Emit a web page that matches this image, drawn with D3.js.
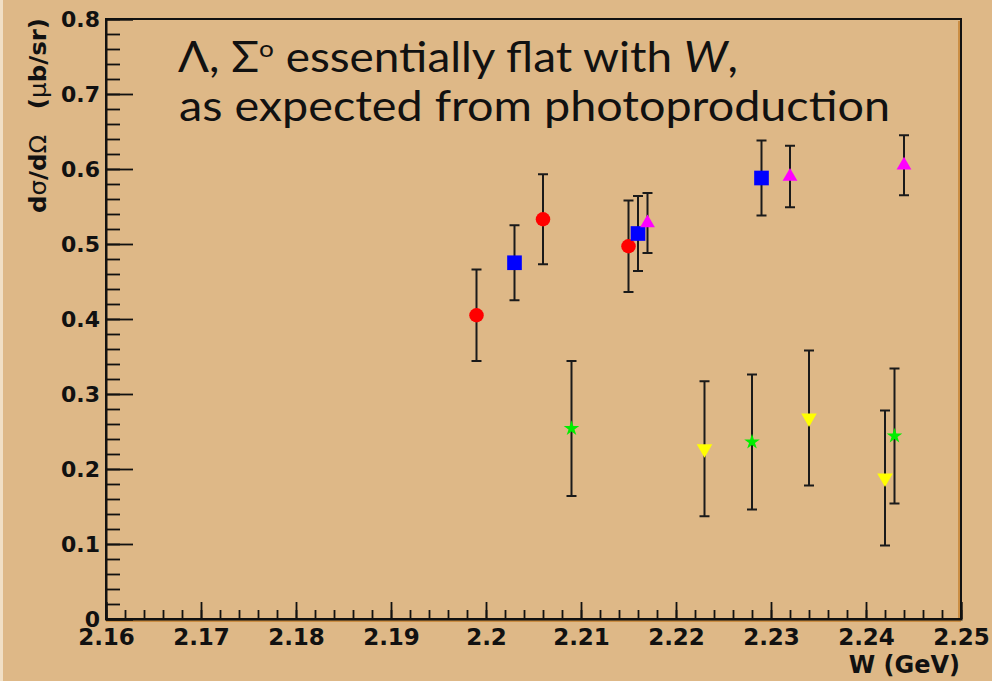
<!DOCTYPE html>
<html>
<head>
<meta charset="utf-8">
<script src="https://cdn.jsdelivr.net/npm/d3@7"></script>
<style>
  html, body { margin: 0; padding: 0; background: #deb887; }
  svg { display: block; }
</style>
</head>
<body>
<svg id="chart" width="992" height="681"></svg>
<script>
// Axis ticks and labels
const xTickValues = [2.16, 2.17, 2.18, 2.19, 2.20, 2.21, 2.22, 2.23, 2.24, 2.25];
const xTickLabels = ["2.16", "2.17", "2.18", "2.19", "2.2", "2.21", "2.22", "2.23", "2.24", "2.25"];
const yTickValues = [0, 0.1, 0.2, 0.3, 0.4, 0.5, 0.6, 0.7, 0.8];
const yTickLabels = ["0", "0.1", "0.2", "0.3", "0.4", "0.5", "0.6", "0.7", "0.8"];

// Red circles
const redW   = [2.199, 2.206, 2.215];
const redV   = [0.405, 0.533, 0.497];
const redErr = [0.061, 0.060, 0.061];

// Blue squares
const blueW   = [2.203, 2.216, 2.229];
const blueV   = [0.475, 0.514, 0.588];
const blueErr = [0.050, 0.050, 0.050];

// Magenta upward triangles
const magentaW   = [2.217, 2.232, 2.244];
const magentaV   = [0.528, 0.590, 0.605];
const magentaErr = [0.040, 0.041, 0.040];

// Green stars
const greenW   = [2.209, 2.228, 2.243];
const greenV   = [0.254, 0.236, 0.244];
const greenErr = [0.090, 0.090, 0.090];

// Yellow downward triangles
const yellowW   = [2.223, 2.234, 2.242];
const yellowV   = [0.227, 0.268, 0.188];
const yellowErr = [0.090, 0.090, 0.090];

const svg = d3.select("#chart");
const W = 992, H = 681;
const frame = { left: 106, right: 961, top: 19, bottom: 619 };

const x = d3.scaleLinear().domain([2.16, 2.25]).range([frame.left, frame.right]);
const y = d3.scaleLinear().domain([0, 0.8]).range([frame.bottom, frame.top]);

// background
svg.append("rect").attr("width", W).attr("height", H).attr("fill", "#deb887");
svg.append("rect").attr("x", 0).attr("y", 0).attr("width", 3).attr("height", H).attr("fill", "#f1dfc5");

// frame shading on right and bottom edges
svg.append("line").attr("x1", frame.right - 2).attr("x2", frame.right - 2)
  .attr("y1", frame.top + 2).attr("y2", frame.bottom)
  .attr("stroke", "#c4812e").attr("stroke-width", 1.5);
svg.append("line").attr("x1", frame.left).attr("x2", frame.right)
  .attr("y1", frame.bottom + 2).attr("y2", frame.bottom + 2)
  .attr("stroke", "#c4812e").attr("stroke-width", 1.5);

// frame
svg.append("rect")
  .attr("x", frame.left).attr("y", frame.top)
  .attr("width", frame.right - frame.left).attr("height", frame.bottom - frame.top)
  .attr("fill", "none").attr("stroke", "#111").attr("stroke-width", 2);

const labelFont = "'DejaVu Sans', sans-serif";

// x axis: minor ticks, then major ticks with labels
const xMinor = d3.range(2.16, 2.2501, 0.002);
svg.append("g").attr("transform", `translate(0,${frame.bottom})`)
  .call(d3.axisBottom(x).tickValues(xMinor).tickSize(-9).tickFormat(""))
  .call(g => g.select(".domain").remove())
  .call(g => g.selectAll("line").attr("stroke", "#111").attr("stroke-width", 1.8));

const xAxis = svg.append("g").attr("transform", `translate(0,${frame.bottom})`)
  .call(d3.axisBottom(x).tickValues(xTickValues).tickSize(-17).tickPadding(10)
    .tickFormat((d, i) => xTickLabels[i]));
xAxis.select(".domain").attr("stroke", "#111").attr("stroke-width", 2);
xAxis.selectAll("line").attr("stroke", "#111").attr("stroke-width", 1.8);
xAxis.selectAll("text")
  .attr("font-family", labelFont).attr("font-weight", "bold")
  .attr("font-size", 23).attr("fill", "#111");

// y axis
const yMinor = d3.range(0, 0.8001, 0.02);
svg.append("g").attr("transform", `translate(${frame.left},0)`)
  .call(d3.axisLeft(y).tickValues(yMinor).tickSize(-14).tickFormat(""))
  .call(g => g.select(".domain").remove())
  .call(g => g.selectAll("line").attr("stroke", "#111").attr("stroke-width", 1.8));

const yAxis = svg.append("g").attr("transform", `translate(${frame.left},0)`)
  .call(d3.axisLeft(y).tickValues(yTickValues).tickSize(-27).tickPadding(6)
    .tickFormat((d, i) => yTickLabels[i]));
yAxis.select(".domain").attr("stroke", "#111").attr("stroke-width", 2);
yAxis.selectAll("line").attr("stroke", "#111").attr("stroke-width", 1.8);
yAxis.selectAll("text")
  .attr("font-family", labelFont).attr("font-weight", "bold")
  .attr("font-size", 22).attr("fill", "#111");

// axis titles
svg.append("text")
  .attr("x", 960).attr("y", 673)
  .attr("text-anchor", "end")
  .attr("font-family", labelFont).attr("font-weight", "bold")
  .attr("font-size", 24).attr("fill", "#111")
  .text("W (GeV)");

const yTitle = svg.append("text")
  .attr("transform", "translate(46,18) rotate(-90)")
  .attr("text-anchor", "end")
  .attr("font-family", labelFont).attr("font-weight", "bold")
  .attr("font-size", 23).attr("fill", "#111")
  .attr("textLength", 195).attr("lengthAdjust", "spacingAndGlyphs");
yTitle.append("tspan").text("d");
yTitle.append("tspan").attr("font-weight", "normal").text("σ");
yTitle.append("tspan").text("/d");
yTitle.append("tspan").attr("font-weight", "normal").text("Ω");
yTitle.append("tspan").text("\u00a0\u00a0\u00a0(");
yTitle.append("tspan").attr("font-weight", "normal").text("μ");
yTitle.append("tspan").text("b/sr)");

// data series
const series = [
  { w: redW, v: redV, e: redErr, color: "#ff0000", symbol: d3.symbolCircle, size: 165, rotate: 0 },
  { w: blueW, v: blueV, e: blueErr, color: "#0000ff", symbol: d3.symbolSquare, size: 215, rotate: 0 },
  { w: magentaW, v: magentaV, e: magentaErr, color: "#ff00ff", symbol: d3.symbolTriangle, size: 95, rotate: 0 },
  { w: greenW, v: greenV, e: greenErr, color: "#00ee00", symbol: d3.symbolStar, size: 75, rotate: 0 },
  { w: yellowW, v: yellowV, e: yellowErr, color: "#ffff00", symbol: d3.symbolTriangle, size: 105, rotate: 180 }
];

const capHalf = 5;
series.forEach(s => {
  const pts = s.w.map((w, i) => ({ w, v: s.v[i], e: s.e[i] }));
  const g = svg.append("g");
  const bars = g.selectAll("g.err").data(pts).join("g").attr("class", "err")
    .attr("stroke", "#1a1a1a").attr("stroke-width", 2);
  bars.append("line")
    .attr("x1", d => x(d.w)).attr("x2", d => x(d.w))
    .attr("y1", d => y(d.v + d.e)).attr("y2", d => y(d.v - d.e));
  bars.append("line")
    .attr("x1", d => x(d.w) - capHalf).attr("x2", d => x(d.w) + capHalf)
    .attr("y1", d => y(d.v + d.e)).attr("y2", d => y(d.v + d.e));
  bars.append("line")
    .attr("x1", d => x(d.w) - capHalf).attr("x2", d => x(d.w) + capHalf)
    .attr("y1", d => y(d.v - d.e)).attr("y2", d => y(d.v - d.e));
  g.selectAll("path.mk").data(pts).join("path").attr("class", "mk")
    .attr("d", d3.symbol().type(s.symbol).size(s.size))
    .attr("transform", d => `translate(${x(d.w)},${y(d.v)}) rotate(${s.rotate})`)
    .attr("fill", s.color);
});

// annotation
const noteFont = "Lato, 'Open Sans', sans-serif";
const line1 = svg.append("text")
  .attr("x", 178).attr("y", 72)
  .attr("font-family", noteFont).attr("font-size", 42).attr("fill", "#111")
  .attr("textLength", 560).attr("lengthAdjust", "spacingAndGlyphs");
line1.append("tspan").text("Λ, Σ");
line1.append("tspan").attr("font-size", 24).attr("dy", -15).text("o");
line1.append("tspan").attr("dy", 15).text(" essentially flat with ");
line1.append("tspan").attr("font-style", "italic").text("W");
line1.append("tspan").text(",");

svg.append("text")
  .attr("x", 179).attr("y", 121)
  .attr("font-family", noteFont).attr("font-size", 42).attr("fill", "#111")
  .attr("textLength", 711).attr("lengthAdjust", "spacingAndGlyphs")
  .text("as expected from photoproduction");
</script>
</body>
</html>
